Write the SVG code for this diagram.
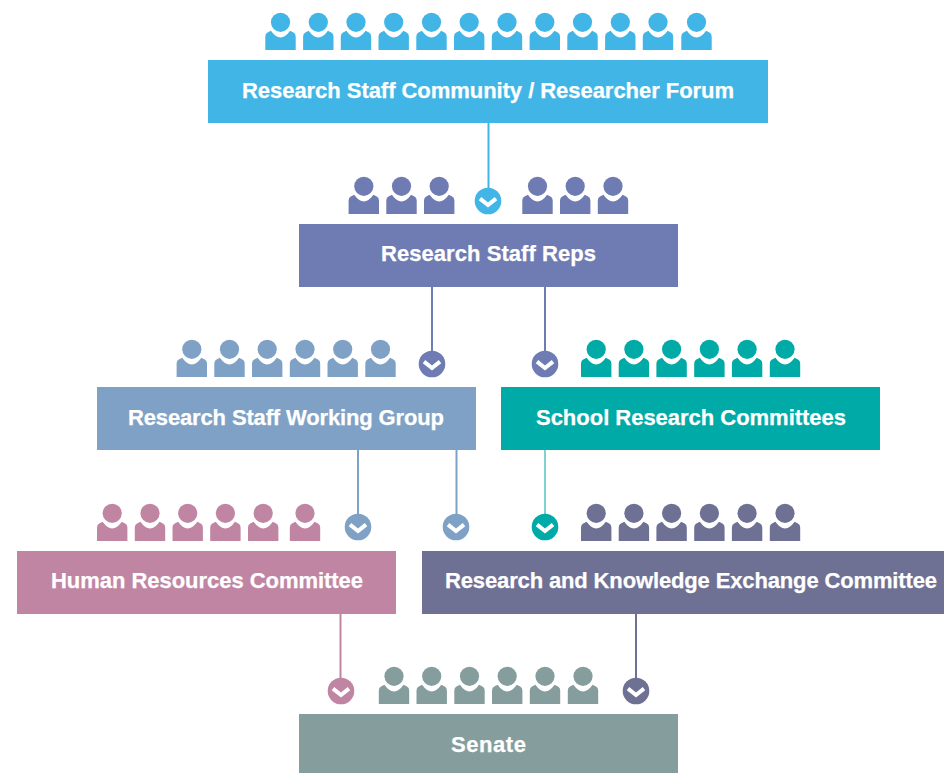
<svg xmlns="http://www.w3.org/2000/svg" width="944" height="773" viewBox="0 0 944 773">
<style>
.t{font-family:"Liberation Sans",Arial,sans-serif;font-weight:700;font-size:22px;fill:#fff;stroke:#fff;stroke-width:.25;text-anchor:start}
.c{fill:none;stroke-width:2}
.v{fill:none;stroke:#fff;stroke-width:4}
</style>
<defs>
<g id="p"><circle cx="0" cy="-27.7" r="9.6"/><path d="M-15.2,0V-13.5Q-15.2,-16.5 -13,-17.5L-9.6,-19.3Q-5,-12.8 0,-12.6Q5,-12.8 9.6,-19.3L13,-17.5Q15.2,-16.5 15.2,-13.5V0Z"/></g>
<g id="a"><circle r="13.3"/><path class="v" d="M-8,-2.4L0,4L8,-2.4"/></g>
</defs>
<rect width="944" height="773" fill="#fff"/>
<g id="connectors">
<path class="c" stroke="#41b6e6" d="M488.500,123V192"/>
<path class="c" stroke="#6f7bb3" d="M432,287V356M545,287V356"/>
<path class="c" stroke="#7fa1c5" d="M358,450V519M456.500,450V519"/>
<path class="c" stroke="#7fd2ce" d="M545,450V519"/>
<path class="c" stroke="#c185a4" d="M340.500,614V683"/>
<path class="c" stroke="#6e7094" d="M636,614V683"/>
<use href="#a" x="488" y="201" fill="#41b6e6"/>
<use href="#a" x="432" y="364" fill="#6f7bb3"/>
<use href="#a" x="545" y="364" fill="#6f7bb3"/>
<use href="#a" x="358" y="527" fill="#7fa1c5"/>
<use href="#a" x="456" y="527" fill="#7fa1c5"/>
<use href="#a" x="545" y="527" fill="#00aaa6"/>
<use href="#a" x="341" y="691" fill="#c185a4"/>
<use href="#a" x="636" y="691" fill="#6e7094"/>
</g>
<g id="forum" fill="#41b6e6">
<rect x="208" y="60" width="560" height="63"/>
<text class="t" x="242" y="98" textLength="492">Research Staff Community / Researcher Forum</text>
<use href="#p" x="280.500" y="50"/><use href="#p" x="318.300" y="50"/><use href="#p" x="356" y="50"/><use href="#p" x="393.700" y="50"/><use href="#p" x="431.500" y="50"/><use href="#p" x="469.200" y="50"/><use href="#p" x="507" y="50"/><use href="#p" x="544.800" y="50"/><use href="#p" x="582.500" y="50"/><use href="#p" x="620.300" y="50"/><use href="#p" x="658" y="50"/><use href="#p" x="696.500" y="50"/>
</g>
<g id="reps" fill="#6f7bb3">
<rect x="299" y="224" width="379" height="63"/>
<text class="t" x="381" y="261" textLength="215">Research Staff Reps</text>
<use href="#p" x="363.800" y="214"/><use href="#p" x="401.500" y="214"/><use href="#p" x="439.200" y="214"/><use href="#p" x="537.500" y="214"/><use href="#p" x="575.200" y="214"/><use href="#p" x="613" y="214"/>
</g>
<g id="working-group" fill="#7fa1c5">
<rect x="97" y="387" width="379" height="63"/>
<text class="t" x="128" y="425" textLength="316">Research Staff Working Group</text>
<use href="#p" x="191.800" y="377"/><use href="#p" x="229.500" y="377"/><use href="#p" x="267.200" y="377"/><use href="#p" x="305" y="377"/><use href="#p" x="342.700" y="377"/><use href="#p" x="380.500" y="377"/>
</g>
<g id="school" fill="#00aaa6">
<rect x="501" y="387" width="379" height="63"/>
<text class="t" x="536" y="425" textLength="310">School Research Committees</text>
<use href="#p" x="596.200" y="377"/><use href="#p" x="633.900" y="377"/><use href="#p" x="671.600" y="377"/><use href="#p" x="709.400" y="377"/><use href="#p" x="747.100" y="377"/><use href="#p" x="785" y="377"/>
</g>
<g id="hr" fill="#c185a4">
<rect x="17" y="551" width="379" height="63"/>
<text class="t" x="51" y="588" textLength="312">Human Resources Committee</text>
<use href="#p" x="112.200" y="541"/><use href="#p" x="150" y="541"/><use href="#p" x="187.700" y="541"/><use href="#p" x="225.400" y="541"/><use href="#p" x="263.200" y="541"/><use href="#p" x="305" y="541"/>
</g>
<g id="rke" fill="#6e7094">
<rect x="422" y="551" width="522" height="63"/>
<text class="t" x="445" y="588" textLength="492">Research and Knowledge Exchange Committee</text>
<use href="#p" x="596.200" y="541"/><use href="#p" x="633.900" y="541"/><use href="#p" x="671.600" y="541"/><use href="#p" x="709.400" y="541"/><use href="#p" x="747.100" y="541"/><use href="#p" x="785" y="541"/>
</g>
<g id="senate" fill="#859e9d">
<rect x="299" y="714" width="379" height="59"/>
<text class="t" x="451" y="752" textLength="75">Senate</text>
<use href="#p" x="394" y="704"/><use href="#p" x="431.700" y="704"/><use href="#p" x="469.500" y="704"/><use href="#p" x="507.200" y="704"/><use href="#p" x="545" y="704"/><use href="#p" x="583" y="704"/>
</g>
</svg>
